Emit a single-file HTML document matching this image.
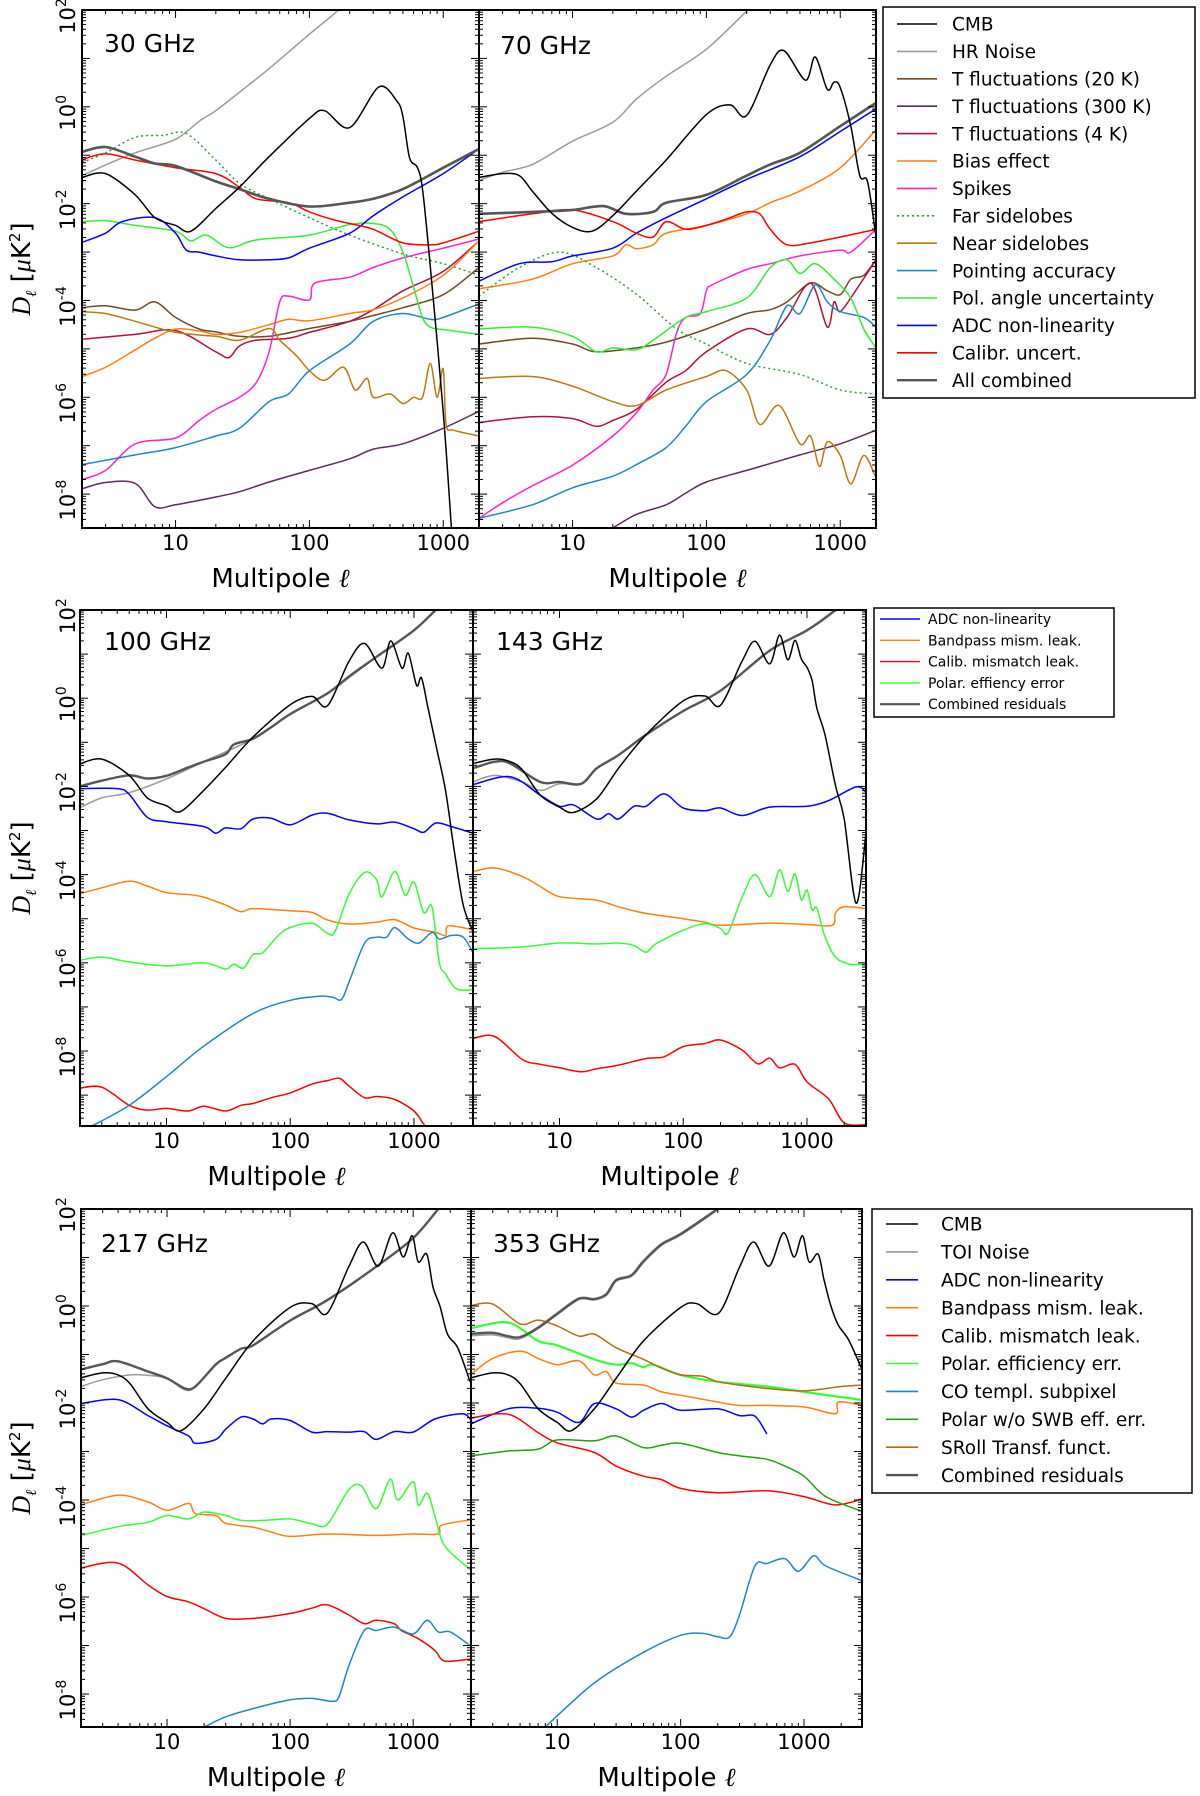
<!DOCTYPE html>
<html><head><meta charset="utf-8"><title>Planck systematics residual spectra</title>
<style>
html,body{margin:0;padding:0;background:#fff;}
svg{display:block;font-family:"DejaVu Sans","Liberation Sans",sans-serif;}
</style></head>
<body>
<svg id="fig" width="1200" height="1796" viewBox="0 0 1200 1796" xmlns="http://www.w3.org/2000/svg"></svg>
<script>
// ===================== DATA (multipole ell, log10 D_ell [uK^2]) =====================
// ---- 30 GHz ----
const cmb30 = [[2,-1.46],[3,-1.38],[5,-1.82],[7,-2.29],[10,-2.45],[13,-2.57],[20,-2.1],[30,-1.66],[50,-1.03],[100,-0.24],[130,-0.08],[200,-0.43],[330,0.41],[450,0.12],[500,-0.2],[560,-1.05],[640,-1.25],[700,-1.7],[800,-3.3],[1000,-6.3],[1150,-8.7]];
const hr30 = [[2,-1.42],[3,-1.2],[5,-0.95],[10,-0.67],[15,-0.3],[20,-0.08],[30,0.3],[50,0.79],[100,1.5],[150,1.9],[220,2.3]];
const t20_30 = [[2,-4.15],[3,-4.11],[5,-4.2],[7,-4.03],[10,-4.35],[15,-4.59],[20,-4.65],[30,-4.74],[50,-4.74],[100,-4.58],[200,-4.43],[300,-4.31],[500,-4.15],[1000,-3.88],[1850,-3.32]];
const t300_30 = [[2,-7.89],[3,-7.76],[5,-7.78],[7,-8.26],[10,-8.22],[20,-8.06],[30,-7.95],[50,-7.75],[100,-7.51],[200,-7.27],[300,-7.07],[500,-6.96],[1000,-6.64],[1850,-6.29]];
const t4_30 = [[2,-4.8],[5,-4.7],[10,-4.62],[20,-5.06],[25,-5.18],[30,-4.94],[40,-4.82],[70,-4.78],[100,-4.66],[200,-4.43],[300,-4.19],[500,-3.8],[1000,-3.4],[1850,-2.77]];
const bias30 = [[2,-5.57],[3,-5.38],[5,-5.02],[7,-4.78],[10,-4.59],[15,-4.63],[20,-4.7],[30,-4.66],[50,-4.5],[70,-4.39],[100,-4.42],[200,-4.27],[300,-4.19],[500,-3.95],[1000,-3.48],[1850,-2.77]];
const spikes30 = [[2,-7.7],[3,-7.51],[5,-6.96],[10,-6.84],[15,-6.48],[20,-6.25],[30,-6.0],[40,-5.7],[50,-5.06],[60,-4.03],[70,-3.91],[100,-3.99],[110,-3.64],[200,-3.52],[300,-3.32],[500,-3.12],[1000,-2.92],[1850,-2.73]];
const far30 = [[2,-1.15],[3,-0.95],[5,-0.63],[8,-0.59],[12,-0.55],[20,-1.1],[30,-1.58],[50,-1.9],[100,-2.29],[200,-2.65],[500,-3.04],[1000,-3.24],[1850,-3.48]];
const near30 = [[2,-4.23],[3,-4.27],[5,-4.43],[10,-4.66],[20,-4.74],[30,-4.82],[50,-4.58],[60,-4.82],[80,-5.14],[100,-5.45],[130,-5.65],[180,-5.38],[220,-5.85],[270,-5.61],[300,-6.0],[400,-5.93],[500,-6.13],[600,-6.0],[700,-6.0],[800,-5.3],[900,-6.0],[1000,-5.41],[1050,-6.56],[1200,-6.68],[1850,-6.8]];
const point30 = [[2,-7.39],[5,-7.19],[10,-7.04],[20,-6.8],[30,-6.64],[50,-6.09],[70,-5.93],[100,-5.45],[200,-4.9],[300,-4.43],[500,-4.27],[800,-4.39],[1000,-4.35],[1850,-4.07]];
const polang30 = [[2,-2.37],[3,-2.35],[5,-2.45],[10,-2.57],[13,-2.77],[17,-2.65],[25,-2.91],[40,-2.75],[100,-2.65],[200,-2.43],[300,-2.41],[400,-2.53],[500,-3.0],[600,-3.72],[700,-4.35],[800,-4.55],[1000,-4.6],[1850,-4.7]];
const adc30 = [[2,-2.8],[3,-2.61],[4,-2.37],[7,-2.29],[10,-2.61],[12,-2.96],[15,-3.0],[20,-3.08],[30,-3.16],[50,-3.16],[70,-3.12],[100,-2.92],[200,-2.61],[300,-2.25],[500,-1.86],[1000,-1.38],[1850,-0.87]];
const cal30 = [[2,-1.09],[3,-0.97],[5,-1.1],[10,-1.26],[20,-1.38],[30,-1.66],[40,-1.9],[70,-1.98],[100,-2.17],[150,-2.33],[200,-2.41],[300,-2.53],[500,-2.81],[800,-2.85],[1000,-2.81],[1850,-2.57]];
const all30 = [[2,-0.93],[3,-0.83],[5,-1.03],[7,-1.17],[10,-1.22],[20,-1.54],[30,-1.7],[50,-1.9],[100,-2.06],[200,-1.98],[300,-1.9],[500,-1.7],[1000,-1.26],[1850,-0.87]];
// ---- 70 GHz ----
const cmb70 = [[2,-1.46],[3,-1.38],[4,-1.42],[5,-1.74],[7,-2.2],[10,-2.49],[14,-2.57],[20,-2.25],[30,-1.74],[50,-1.1],[100,-0.16],[150,0.04],[200,-0.18],[300,0.87],[380,1.16],[550,0.55],[650,1.03],[800,0.36],[900,0.51],[1000,0.4],[1200,-0.4],[1400,-1.42],[1600,-1.55],[1850,-2.69]];
const hr70 = [[2,-1.52],[3,-1.35],[5,-1.19],[10,-0.71],[20,-0.32],[30,0.16],[50,0.63],[100,1.19],[200,1.98],[260,2.3]];
const t20_70 = [[2,-4.9],[5,-4.78],[10,-4.9],[15,-5.06],[30,-4.98],[50,-4.86],[100,-4.59],[200,-4.27],[300,-4.19],[400,-4.03],[600,-3.64],[800,-3.8],[1000,-3.88],[1200,-3.56],[1500,-3.48],[1850,-3.16]];
const t300_70 = [[20,-8.7],[30,-8.42],[50,-8.22],[70,-7.98],[100,-7.75],[200,-7.51],[500,-7.19],[1000,-6.96],[1850,-6.68]];
const t4_70 = [[2,-6.52],[5,-6.4],[10,-6.44],[15,-6.6],[20,-6.48],[30,-6.25],[50,-5.69],[70,-5.45],[100,-5.06],[200,-4.59],[300,-4.7],[400,-4.35],[600,-3.64],[800,-4.55],[900,-4.03],[1000,-4.23],[1300,-3.8],[1850,-3.16]];
const bias70 = [[2,-3.76],[5,-3.56],[10,-3.24],[20,-3.08],[25,-2.85],[30,-2.93],[40,-2.85],[50,-2.61],[100,-2.45],[200,-2.21],[300,-1.98],[500,-1.74],[1000,-1.26],[1850,-0.47]];
const spikes70 = [[2,-8.5],[3,-8.18],[5,-7.83],[10,-7.4],[20,-6.8],[30,-6.32],[40,-5.85],[50,-5.53],[60,-4.66],[70,-4.35],[90,-4.27],[100,-3.8],[110,-3.68],[200,-3.36],[300,-3.24],[500,-3.08],[1000,-2.96],[1200,-3.0],[1850,-2.53]];
const far70 = [[2,-3.91],[4,-3.32],[8,-3.0],[15,-3.32],[30,-3.87],[60,-4.59],[100,-4.9],[200,-5.3],[500,-5.53],[1000,-5.85],[1850,-5.93]];
const near70 = [[2,-5.61],[5,-5.57],[10,-5.77],[20,-6.09],[30,-6.17],[50,-5.85],[100,-5.57],[140,-5.45],[200,-5.85],[250,-6.56],[350,-6.17],[500,-6.96],[600,-6.8],[700,-7.43],[800,-6.92],[1000,-7.2],[1200,-7.79],[1500,-7.2],[1850,-7.67]];
const point70 = [[2,-8.5],[5,-8.22],[10,-7.87],[20,-7.63],[30,-7.39],[50,-7.04],[70,-6.6],[100,-6.09],[200,-5.53],[300,-4.82],[400,-4.11],[500,-4.27],[650,-3.68],[800,-4.03],[1000,-4.23],[1500,-4.35],[1850,-4.55]];
const polang70 = [[2,-4.59],[5,-4.55],[10,-4.74],[15,-5.06],[20,-4.98],[30,-5.02],[40,-4.82],[70,-4.35],[100,-4.23],[200,-3.95],[300,-3.32],[400,-3.16],[500,-3.44],[650,-3.24],[900,-3.56],[1200,-3.95],[1500,-4.59],[1850,-4.98]];
const adc70 = [[2,-3.6],[4,-3.24],[7,-3.2],[10,-3.08],[20,-2.92],[30,-2.61],[50,-2.29],[100,-1.9],[200,-1.5],[500,-1.03],[1000,-0.51],[1850,-0.04]];
const cal70 = [[2,-2.37],[5,-2.21],[10,-2.13],[20,-2.37],[30,-2.61],[40,-2.69],[50,-2.37],[70,-2.53],[100,-2.45],[150,-2.29],[200,-2.17],[250,-2.21],[300,-2.53],[400,-2.85],[600,-2.81],[1000,-2.69],[1850,-2.53]];
const all70 = [[2,-2.21],[5,-2.17],[10,-2.13],[17,-2.05],[25,-2.21],[40,-2.17],[50,-1.98],[100,-1.82],[200,-1.42],[300,-1.19],[500,-0.95],[1000,-0.4],[1850,0.08]];
// ---- 100 GHz ----
const cmb100 = [[2,-1.49],[3,-1.38],[5,-1.75],[7,-2.26],[10,-2.44],[13,-2.57],[20,-2.09],[30,-1.57],[50,-0.88],[100,-0.15],[150,0.04],[200,-0.17],[300,0.85],[400,1.24],[550,0.68],[650,1.3],[800,0.68],[900,1.02],[1050,0.29],[1150,0.46],[1300,-0.23],[1500,-1.05],[1800,-2.09],[2100,-3.39],[2500,-4.69],[3000,-5.29]];
const noise100 = [[2,-2.48],[3,-2.26],[5,-2.14],[10,-1.83],[20,-1.44],[50,-0.92],[100,-0.36],[200,0.11],[500,0.94],[1000,1.54],[1500,2.0]];
const adc100 = [[2,-2.05],[4,-2.05],[5,-2.18],[7,-2.7],[10,-2.8],[20,-2.91],[25,-3.06],[30,-2.94],[40,-2.96],[50,-2.74],[70,-2.72],[100,-2.87],[150,-2.65],[200,-2.61],[300,-2.76],[500,-2.85],[700,-2.81],[1000,-2.96],[1200,-3.04],[1500,-2.83],[2000,-2.91],[3000,-3.06]];
const band100 = [[2,-4.43],[3,-4.3],[5,-4.15],[7,-4.26],[10,-4.41],[15,-4.45],[20,-4.51],[30,-4.69],[40,-4.84],[50,-4.77],[100,-4.82],[150,-4.86],[200,-5.03],[300,-5.12],[500,-5.08],[700,-5.02],[1000,-5.21],[1500,-5.31],[1800,-5.38],[1900,-5.16],[3000,-5.25]];
const calmis100 = [[2,-8.84],[3,-8.82],[5,-9.23],[7,-9.34],[10,-9.3],[15,-9.36],[20,-9.25],[30,-9.36],[40,-9.23],[50,-9.19],[70,-9.06],[100,-8.95],[150,-8.75],[200,-8.67],[250,-8.62],[300,-8.8],[400,-9.06],[500,-9.03],[700,-9.1],[1000,-9.36],[1200,-9.66],[1300,-9.75]];
const poleff100 = [[2,-5.94],[3,-5.87],[5,-5.98],[10,-6.07],[20,-6.0],[30,-6.14],[35,-6.03],[42,-6.12],[50,-5.81],[60,-5.77],[80,-5.38],[100,-5.2],[150,-5.1],[200,-5.33],[230,-5.29],[300,-4.43],[400,-3.95],[500,-4.12],[550,-4.51],[700,-3.93],[850,-4.47],[1000,-4.17],[1200,-4.86],[1400,-4.73],[1600,-5.99],[1800,-6.25],[2200,-6.59],[3000,-6.61]];
const co100 = [[2.5,-9.7],[5,-9.23],[10,-8.58],[20,-7.89],[50,-7.15],[100,-6.85],[170,-6.76],[220,-6.78],[260,-6.83],[300,-6.42],[400,-5.55],[500,-5.42],[600,-5.42],[700,-5.2],[900,-5.46],[1100,-5.55],[1400,-5.31],[1600,-5.46],[2000,-5.38],[2500,-5.42],[3000,-5.77]];
const comb100 = [[2,-2.0],[3,-1.87],[5,-1.75],[7,-1.82],[10,-1.76],[15,-1.57],[20,-1.44],[30,-1.27],[35,-1.05],[50,-0.92],[70,-0.66],[100,-0.36],[200,0.11],[300,0.5],[500,0.94],[1000,1.54],[1500,2.0],[2000,2.3]];
// ---- 143 GHz ----
const cmb143 = [[2,-1.48],[3,-1.38],[4,-1.44],[5,-1.62],[7,-2.2],[10,-2.47],[13,-2.59],[20,-2.28],[30,-1.59],[50,-0.83],[100,-0.06],[150,0.05],[200,-0.16],[300,0.85],[380,1.29],[500,0.78],[600,1.43],[700,0.87],[800,1.31],[900,0.89],[1000,0.7],[1100,0.4],[1200,-0.22],[1400,-0.83],[1700,-1.98],[2000,-2.74],[2500,-4.65],[3000,-3.05]];
const noise143 = [[2,-1.9],[3,-1.75],[5,-1.9],[7,-2.09],[10,-1.94],[15,-1.94],[20,-1.59],[30,-1.29],[50,-0.83],[100,-0.29],[200,0.17],[500,1.08],[1000,1.54],[1700,2.0],[2200,2.3]];
const adc143 = [[2,-1.96],[4,-1.78],[7,-2.2],[10,-2.45],[13,-2.42],[20,-2.74],[25,-2.62],[30,-2.74],[40,-2.45],[50,-2.45],[70,-2.17],[100,-2.49],[150,-2.55],[200,-2.49],[300,-2.66],[500,-2.47],[1000,-2.45],[1500,-2.32],[2500,-2.01],[3000,-2.13]];
const band143 = [[2,-3.93],[3,-3.85],[5,-4.04],[7,-4.27],[10,-4.5],[20,-4.58],[30,-4.73],[50,-4.88],[100,-5.0],[150,-5.08],[200,-5.15],[500,-5.1],[1000,-5.13],[1600,-5.15],[1700,-4.87],[2000,-4.73],[3000,-4.77]];
const calmis143 = [[2,-7.71],[3,-7.67],[5,-8.19],[7,-8.3],[10,-8.38],[15,-8.47],[20,-8.4],[30,-8.32],[50,-8.17],[70,-8.13],[100,-7.9],[150,-7.83],[200,-7.75],[300,-7.98],[400,-8.29],[500,-8.16],[600,-8.38],[800,-8.3],[1000,-8.7],[1500,-9.09],[2000,-9.63],[3000,-9.67]];
const poleff143 = [[2,-5.68],[5,-5.64],[10,-5.55],[20,-5.57],[30,-5.55],[40,-5.61],[50,-5.76],[60,-5.57],[100,-5.26],[150,-5.11],[200,-5.22],[230,-5.32],[300,-4.5],[380,-4.0],[500,-4.5],[600,-3.89],[700,-4.38],[800,-3.98],[900,-4.57],[1000,-4.35],[1100,-4.8],[1200,-4.76],[1400,-5.41],[1700,-5.87],[2200,-6.03],[3000,-6.03]];
const comb143 = [[2,-1.59],[3,-1.44],[4,-1.48],[7,-1.9],[10,-1.9],[15,-1.94],[20,-1.59],[30,-1.29],[50,-0.83],[100,-0.29],[200,0.17],[500,1.08],[1000,1.54],[1700,2.0],[2200,2.3]];
// ---- 217 GHz ----
const cmb217 = [[2,-1.48],[3,-1.38],[4,-1.42],[5,-1.6],[7,-2.12],[10,-2.4],[13,-2.57],[20,-2.12],[30,-1.49],[50,-0.72],[100,-0.03],[150,0.05],[200,-0.15],[300,0.81],[393,1.32],[520,0.82],[680,1.51],[830,1.01],[980,1.45],[1100,0.91],[1290,1.07],[1450,0.39],[1650,0.0],[1900,-0.58],[2300,-0.86],[2900,-1.56]];
const noise217 = [[2,-1.66],[3,-1.52],[5,-1.42],[7,-1.43],[10,-1.49],[14,-1.73],[17,-1.66],[25,-1.2],[40,-0.88],[50,-0.81],[100,-0.3],[200,0.12],[500,0.81],[1000,1.4],[1600,2.0],[2000,2.3]];
const adc217 = [[2,-2.01],[4,-1.93],[7,-2.26],[10,-2.47],[15,-2.68],[17,-2.83],[25,-2.75],[30,-2.54],[40,-2.29],[50,-2.33],[60,-2.43],[70,-2.33],[100,-2.36],[150,-2.6],[200,-2.59],[300,-2.6],[400,-2.59],[500,-2.75],[700,-2.59],[1000,-2.6],[1500,-2.33],[2500,-2.22],[2900,-2.33]];
const band217 = [[2,-4.1],[4,-3.9],[7,-4.04],[10,-4.21],[15,-4.07],[17,-4.28],[25,-4.32],[30,-4.48],[50,-4.56],[70,-4.66],[100,-4.75],[200,-4.7],[500,-4.73],[1000,-4.7],[1600,-4.7],[1700,-4.52],[2900,-4.41]];
const calmis217 = [[2,-5.4],[4,-5.3],[7,-5.75],[10,-5.99],[15,-6.1],[20,-6.24],[30,-6.44],[50,-6.44],[100,-6.34],[150,-6.23],[200,-6.16],[300,-6.37],[400,-6.55],[500,-6.48],[700,-6.55],[800,-6.69],[1100,-6.86],[1500,-7.1],[1800,-7.32],[2900,-7.28]];
const poleff217 = [[2,-4.73],[4,-4.55],[7,-4.46],[10,-4.32],[15,-4.39],[20,-4.25],[30,-4.32],[40,-4.42],[60,-4.42],[100,-4.39],[150,-4.49],[200,-4.5],[300,-3.79],[380,-3.71],[500,-4.18],[650,-3.57],[750,-4.0],[1000,-3.62],[1100,-4.11],[1300,-3.86],[1500,-4.32],[1800,-4.94],[2900,-5.43]];
const co217 = [[20,-8.68],[30,-8.47],[50,-8.3],[100,-8.12],[150,-8.09],[220,-8.15],[250,-8.05],[300,-7.42],[400,-6.69],[500,-6.69],[700,-6.62],[1000,-6.76],[1300,-6.48],[1600,-6.72],[2000,-6.72],[2900,-7.0]];
const comb217 = [[2,-1.31],[3,-1.2],[4,-1.14],[7,-1.35],[10,-1.49],[14,-1.7],[17,-1.66],[25,-1.2],[30,-1.07],[40,-0.88],[50,-0.81],[100,-0.3],[200,0.12],[500,0.81],[1000,1.4],[1600,2.0],[2000,2.3]];
// ---- 353 GHz ----
const cmb353 = [[2,-1.48],[3,-1.38],[4,-1.42],[5,-1.6],[7,-2.12],[10,-2.4],[13,-2.57],[20,-2.12],[30,-1.49],[50,-0.72],[100,-0.03],[135,0.05],[203,-0.15],[300,0.8],[390,1.32],[520,0.82],[680,1.51],[830,1.01],[970,1.45],[1100,0.91],[1300,1.07],[1450,0.55],[1650,0.0],[1900,-0.4],[2300,-0.7],[3000,-1.35]];
const noise353 = [[2,-0.6],[3,-0.58],[4,-0.64],[5,-0.66],[7,-0.45],[10,-0.16],[15,0.15],[20,0.14],[25,0.24],[30,0.53],[40,0.63],[50,0.92],[70,1.27],[100,1.48],[200,2.0],[300,2.3]];
const adc353 = [[2,-2.43],[4,-2.12],[7,-2.11],[10,-2.19],[15,-2.4],[20,-2.01],[30,-2.12],[40,-2.29],[50,-2.15],[70,-2.01],[100,-2.15],[200,-2.12],[300,-2.26],[400,-2.27],[500,-2.64]];
const band353 = [[2,-1.41],[3,-1.08],[5,-0.93],[7,-1.08],[10,-1.21],[15,-1.13],[20,-1.42],[25,-1.35],[30,-1.59],[50,-1.63],[70,-1.77],[100,-1.84],[200,-1.98],[300,-2.05],[500,-2.05],[1000,-2.08],[1800,-2.22],[1900,-1.98],[3000,-2.05]];
const calmis353 = [[2,-2.31],[4,-2.23],[7,-2.61],[10,-2.82],[20,-3.02],[30,-3.3],[50,-3.51],[70,-3.58],[100,-3.76],[200,-3.85],[500,-3.81],[1000,-3.93],[1800,-4.1],[3000,-3.97]];
const poleff353 = [[2,-0.46],[4,-0.34],[7,-0.72],[10,-0.81],[20,-1.1],[30,-1.21],[40,-1.18],[50,-1.26],[60,-1.21],[100,-1.42],[200,-1.56],[500,-1.66],[1000,-1.77],[3000,-1.94]];
const co353 = [[8,-8.68],[20,-7.77],[50,-7.14],[100,-6.79],[150,-6.75],[200,-6.82],[250,-6.82],[300,-6.37],[400,-5.36],[500,-5.31],[700,-5.21],[900,-5.47],[1200,-5.15],[1500,-5.36],[3000,-5.67]];
const polswb353 = [[2,-3.09],[4,-2.99],[7,-2.95],[10,-2.76],[20,-2.78],[30,-2.68],[50,-2.92],[70,-2.87],[100,-2.83],[200,-3.02],[300,-3.09],[500,-3.16],[700,-3.3],[1000,-3.51],[1500,-3.93],[3000,-4.24]];
const sroll353 = [[2,0.01],[3,0.04],[5,-0.37],[7,-0.29],[10,-0.41],[15,-0.62],[20,-0.58],[30,-0.86],[50,-1.1],[70,-1.28],[100,-1.42],[150,-1.45],[200,-1.56],[300,-1.63],[500,-1.7],[1000,-1.75],[2000,-1.66],[3000,-1.63]];
const comb353 = [[2,-0.57],[3,-0.55],[4,-0.62],[5,-0.64],[7,-0.45],[10,-0.16],[15,0.15],[20,0.14],[25,0.24],[30,0.53],[40,0.63],[50,0.92],[70,1.27],[100,1.48],[200,2.0],[300,2.3]];

// Axis ticks
const xTickValues = [10, 100, 1000];
const yTickExponents = [2, 0, -2, -4, -6, -8];

// Legend labels
const legendTopLabels = ["CMB","HR Noise","T fluctuations (20 K)","T fluctuations (300 K)","T fluctuations (4 K)","Bias effect","Spikes","Far sidelobes","Near sidelobes","Pointing accuracy","Pol. angle uncertainty","ADC non-linearity","Calibr. uncert.","All combined"];
const legendMidLabels = ["ADC non-linearity","Bandpass mism. leak.","Calib. mismatch leak.","Polar. effiency error","Combined residuals"];
const legendBotLabels = ["CMB","TOI Noise","ADC non-linearity","Bandpass mism. leak.","Calib. mismatch leak.","Polar. efficiency err.","CO templ. subpixel","Polar w/o SWB eff. err.","SRoll Transf. funct.","Combined residuals"];

// ===================== STYLES =====================
const C = {cmb:'#000000', hr:'#9a9a9a', t20:'#6e4a22', t300:'#5e2a5e', t4:'#b0103c', bias:'#ff7f0e', spikes:'#ff22cc', far:'#2ca02c', near:'#b97a10', point:'#1f88bb', polang:'#33ee33', adc:'#0000ff', cal:'#ff0000', comb:'#555555', poleff:'#33ff33', polswb:'#22a010', sroll:'#b06e10'};

const legendTopStyles = [[C.cmb,1.6,''],[C.hr,1.6,''],[C.t20,1.6,''],[C.t300,1.6,''],[C.t4,1.6,''],[C.bias,1.6,''],[C.spikes,1.6,''],[C.far,1.6,'2,3'],[C.near,1.6,''],[C.point,1.6,''],[C.polang,1.6,''],[C.adc,1.6,''],[C.cal,1.6,''],[C.comb,2.4,'']];
const legendMidStyles = [[C.adc,1.4,''],[C.bias,1.4,''],[C.cal,1.4,''],[C.poleff,1.4,''],[C.comb,2.2,'']];
const legendBotStyles = [[C.cmb,1.6,''],[C.hr,1.6,''],[C.adc,1.6,''],[C.bias,1.6,''],[C.cal,1.6,''],[C.poleff,1.6,''],[C.point,1.6,''],[C.polswb,1.6,''],[C.sroll,1.6,''],[C.comb,2.4,'']];

const panels = [
 {id:'30ghz', label:'30 GHz', x0:82, x1:479, y0:10, y1:528, lmax:1850, dmin:-8.7, showY:true, tx:104, ty:52,
  series:[['hr-noise',hr30,C.hr,1.5,''],['t-fluct-20k',t20_30,C.t20,1.5,''],['t-fluct-300k',t300_30,C.t300,1.5,''],['t-fluct-4k',t4_30,C.t4,1.5,''],['bias-effect',bias30,C.bias,1.5,''],['spikes',spikes30,C.spikes,1.5,''],['far-sidelobes',far30,C.far,1.5,'2,3'],['near-sidelobes',near30,C.near,1.5,''],['pointing-accuracy',point30,C.point,1.5,''],['pol-angle-uncertainty',polang30,C.polang,1.5,''],['adc-non-linearity',adc30,C.adc,1.5,''],['calibr-uncert',cal30,C.cal,1.5,''],['all-combined',all30,C.comb,2.6,''],['cmb',cmb30,C.cmb,1.5,'']]},
 {id:'70ghz', label:'70 GHz', x0:479, x1:876, y0:10, y1:528, lmax:1850, dmin:-8.7, showY:false, tx:500, ty:54,
  series:[['hr-noise',hr70,C.hr,1.5,''],['t-fluct-20k',t20_70,C.t20,1.5,''],['t-fluct-300k',t300_70,C.t300,1.5,''],['t-fluct-4k',t4_70,C.t4,1.5,''],['bias-effect',bias70,C.bias,1.5,''],['spikes',spikes70,C.spikes,1.5,''],['far-sidelobes',far70,C.far,1.5,'2,3'],['near-sidelobes',near70,C.near,1.5,''],['pointing-accuracy',point70,C.point,1.5,''],['pol-angle-uncertainty',polang70,C.polang,1.5,''],['adc-non-linearity',adc70,C.adc,1.5,''],['calibr-uncert',cal70,C.cal,1.5,''],['all-combined',all70,C.comb,2.6,''],['cmb',cmb70,C.cmb,1.5,'']]},
 {id:'100ghz', label:'100 GHz', x0:80, x1:473, y0:610, y1:1126, lmax:3000, dmin:-9.7, showY:true, tx:104, ty:650,
  series:[['noise',noise100,C.hr,1.5,''],['adc-non-linearity',adc100,C.adc,1.5,''],['bandpass-mismatch',band100,C.bias,1.5,''],['calib-mismatch',calmis100,C.cal,1.5,''],['polar-efficiency',poleff100,C.poleff,1.5,''],['co-template',co100,C.point,1.5,''],['combined-residuals',comb100,C.comb,2.4,''],['cmb',cmb100,C.cmb,1.5,'']]},
 {id:'143ghz', label:'143 GHz', x0:473, x1:866, y0:610, y1:1126, lmax:3000, dmin:-9.7, showY:false, tx:496, ty:650,
  series:[['noise',noise143,C.hr,1.5,''],['adc-non-linearity',adc143,C.adc,1.5,''],['bandpass-mismatch',band143,C.bias,1.5,''],['calib-mismatch',calmis143,C.cal,1.5,''],['polar-efficiency',poleff143,C.poleff,1.5,''],['combined-residuals',comb143,C.comb,2.4,''],['cmb',cmb143,C.cmb,1.5,'']]},
 {id:'217ghz', label:'217 GHz', x0:81, x1:471, y0:1209, y1:1727, lmax:2950, dmin:-8.68, showY:true, tx:101, ty:1252,
  series:[['toi-noise',noise217,C.hr,1.5,''],['adc-non-linearity',adc217,C.adc,1.5,''],['bandpass-mismatch',band217,C.bias,1.5,''],['calib-mismatch',calmis217,C.cal,1.5,''],['polar-efficiency',poleff217,C.poleff,1.5,''],['co-template',co217,C.point,1.5,''],['combined-residuals',comb217,C.comb,2.4,''],['cmb',cmb217,C.cmb,1.5,'']]},
 {id:'353ghz', label:'353 GHz', x0:471, x1:862, y0:1209, y1:1727, lmax:2950, dmin:-8.68, showY:false, tx:493, ty:1252,
  series:[['toi-noise',noise353,C.hr,3,''],['adc-non-linearity',adc353,C.adc,1.5,''],['bandpass-mismatch',band353,C.bias,1.5,''],['calib-mismatch',calmis353,C.cal,1.5,''],['polar-efficiency',poleff353,C.poleff,2.2,''],['co-template',co353,C.point,1.5,''],['polar-wo-swb',polswb353,C.polswb,1.5,''],['sroll-transfer',sroll353,C.sroll,1.5,''],['combined-residuals',comb353,C.comb,2.2,''],['cmb',cmb353,C.cmb,1.5,'']]}
];

// ===================== DRAWING =====================
const NS = 'http://www.w3.org/2000/svg';
const svg = document.getElementById('fig');
function mk(tag, attrs, parent){ const e=document.createElementNS(NS,tag); for(const k in attrs) e.setAttribute(k,attrs[k]); (parent||svg).appendChild(e); return e; }
const defs = mk('defs',{});

// smooth path (Catmull-Rom -> cubic Bezier) through screen points
function smoothPath(pts){
  if(pts.length<2) return '';
  let d='M'+pts[0][0].toFixed(1)+','+pts[0][1].toFixed(1);
  const k=0.16;
  for(let i=0;i<pts.length-1;i++){
    const p0=pts[Math.max(0,i-1)], p1=pts[i], p2=pts[i+1], p3=pts[Math.min(pts.length-1,i+2)];
    const c1x=p1[0]+(p2[0]-p0[0])*k, c1y=p1[1]+(p2[1]-p0[1])*k;
    const c2x=p2[0]-(p3[0]-p1[0])*k, c2y=p2[1]-(p3[1]-p1[1])*k;
    d+=' C'+c1x.toFixed(1)+','+c1y.toFixed(1)+' '+c2x.toFixed(1)+','+c2y.toFixed(1)+' '+p2[0].toFixed(1)+','+p2[1].toFixed(1);
  }
  return d;
}

panels.forEach((p,pi)=>{
  const g = mk('g',{});
  
  
  const lmin=2, dmax=2;
  const lx0=Math.log10(lmin), lx1=Math.log10(p.lmax);
  const sx = l => p.x0 + (Math.log10(l)-lx0)/(lx1-lx0)*(p.x1-p.x0);
  const sy = d => p.y0 + (dmax-d)/(dmax-p.dmin)*(p.y1-p.y0);
  const cp = mk('clipPath',{id:'clip'+pi},defs);
  mk('rect',{x:p.x0,y:p.y0,width:p.x1-p.x0,height:p.y1-p.y0},cp);
  const sg = mk('g',{'clip-path':'url(#clip'+pi+')'},g);
  
  
  p.series.forEach(s=>{
    const pts = s[1].map(pt=>[sx(pt[0]), sy(pt[1])]);
    const path = mk('path',{d:smoothPath(pts),fill:'none',stroke:s[2],'stroke-width':s[3],'stroke-linejoin':'round'},sg);
    if(s[4]) path.setAttribute('stroke-dasharray',s[4]);
    
    
  });
  const tg = mk('g',{stroke:'#000','stroke-width':1},g);
  
  
  for(let dec=0; dec<=4; dec++){
    for(let m=1;m<10;m++){
      const l=m*Math.pow(10,dec); if(l<lmin||l>p.lmax) continue;
      const x=sx(l), len = m===1?8:4;
      mk('line',{x1:x,y1:p.y1,x2:x,y2:p.y1-len},tg);
      mk('line',{x1:x,y1:p.y0,x2:x,y2:p.y0+len},tg);
    }
  }
  for(let e=-10;e<=2;e++){
    for(let m=1;m<10;m++){
      const v=Math.log10(m)+e; if(v<p.dmin||v>dmax) continue;
      const y=sy(v), len=m===1?8:4;
      mk('line',{x1:p.x0,y1:y,x2:p.x0+len,y2:y},tg);
      mk('line',{x1:p.x1,y1:y,x2:p.x1-len,y2:y},tg);
    }
  }
  mk('rect',{x:p.x0,y:p.y0,width:p.x1-p.x0,height:p.y1-p.y0,fill:'none',stroke:'#000','stroke-width':2},g);
  xTickValues.forEach(v=>{
    const t = mk('text',{x:sx(v),y:p.y1+22,'font-size':21,'text-anchor':'middle',fill:'#000'},g);
    t.textContent = String(v);
    
    
  });
  const xl = mk('text',{x:(p.x0+p.x1)/2,y:p.y1+59,'font-size':26,'text-anchor':'middle',fill:'#000'},g);
  xl.innerHTML = 'Multipole <tspan font-family="Liberation Serif,serif" font-style="italic">ℓ</tspan>';
  
  
  const pl = mk('text',{x:p.tx,y:p.ty,'font-size':25,fill:'#000'},g);
  pl.textContent = p.label;
  
  
  if(p.showY){
    yTickExponents.forEach(e=>{
      const y=sy(e);
      const t = mk('text',{transform:'translate(75,'+(y+6)+') rotate(-90)','font-size':21,'text-anchor':'middle',fill:'#000'},g);
      t.innerHTML = '10<tspan font-size="14" dy="-9">'+(e<0?'-'+(-e):e)+'</tspan>';
      
      
    });
    const yc=(p.y0+p.y1)/2;
    const yl = mk('text',{transform:'translate(30,'+yc+') rotate(-90)','font-size':26,'text-anchor':'middle',fill:'#000'},g);
    yl.innerHTML = '<tspan font-family="Liberation Serif,serif" font-style="italic">D</tspan><tspan font-family="Liberation Serif,serif" font-style="italic" font-size="15" dy="6">ℓ</tspan><tspan dy="-6"> [</tspan><tspan font-family="Liberation Serif,serif" font-style="italic">μ</tspan>K<tspan font-size="15" dy="-10">2</tspan><tspan dy="10">]</tspan>';
    
    
  }
});

function legend(name, labels, styles, box, rowY0, dy, lx0, lx1, tx, fs){
  const g = mk('g',{});
  
  
  mk('rect',{x:box[0],y:box[1],width:box[2]-box[0],height:box[3]-box[1],fill:'#fff',stroke:'#000','stroke-width':1.5},g);
  labels.forEach((lab,i)=>{
    const y = rowY0 + i*dy;
    const st = styles[i];
    const ln = mk('line',{x1:lx0,y1:y,x2:lx1,y2:y,stroke:st[0],'stroke-width':st[1]},g);
    if(st[2]) ln.setAttribute('stroke-dasharray',st[2]);
    
    
    const t = mk('text',{x:tx,y:y+fs*0.36,'font-size':fs,fill:'#000'},g);
    t.textContent = lab;
    
    
  });
}
legend('legend-lfi', legendTopLabels, legendTopStyles, [883,7,1195,398], 24, 27.4, 897, 937, 952, 18.5);
legend('legend-hfi-polar', legendMidLabels, legendMidStyles, [874,608,1114,717], 619, 21.3, 880, 920, 928, 14);
legend('legend-hfi', legendBotLabels, legendBotStyles, [872,1209,1192,1493], 1224, 27.9, 886, 918, 941, 18.5);
</script>
</body></html>
